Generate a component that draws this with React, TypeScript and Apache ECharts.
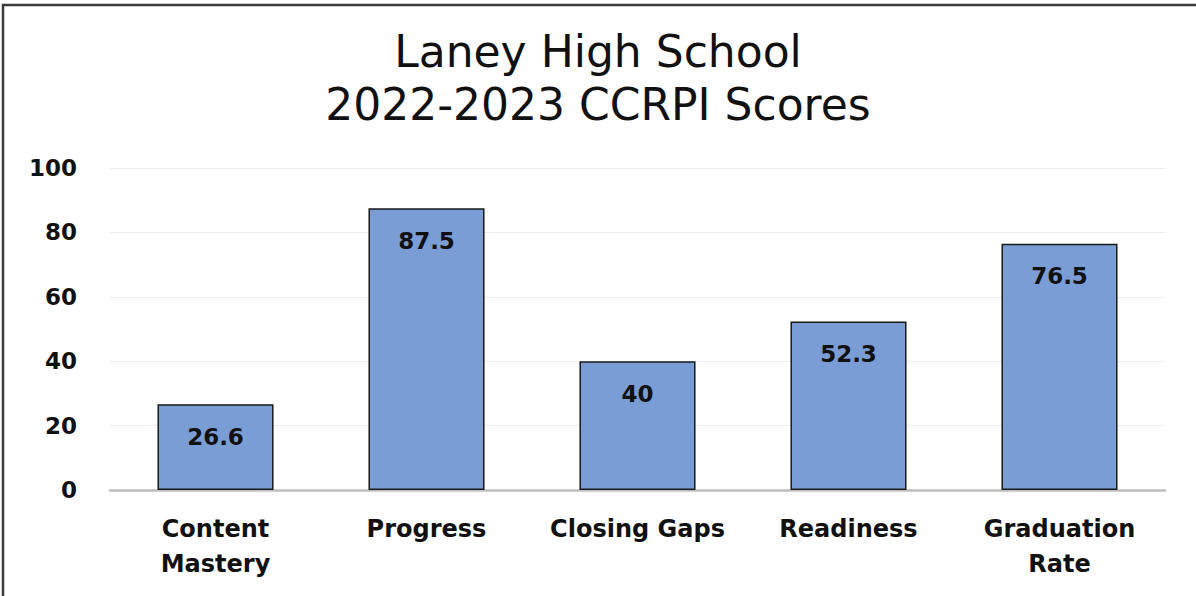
import React, { useEffect, useRef } from "react";
import * as echarts from "echarts";

const categories = ["Content\nMastery", "Progress", "Closing Gaps", "Readiness", "Graduation\nRate"];
const scores = [26.6, 87.5, 40, 52.3, 76.5];
const titleLines = ["Laney High School", "2022-2023 CCRPI Scores"];

export default function App() {
  const ref = useRef<HTMLDivElement>(null);
  useEffect(() => {
    if (!ref.current) return;
    const chart = echarts.init(ref.current, null, { renderer: "svg" });
    const font = "'DejaVu Sans', 'Noto Sans', sans-serif";
    chart.setOption({
      animation: false,
      backgroundColor: "#ffffff",
      title: {
        text: titleLines.join("\n"),
        left: "center",
        top: 20,
        textStyle: {
          fontFamily: font,
          fontSize: 44,
          fontWeight: "normal",
          color: "#111111",
          lineHeight: 53,
        },
      },
      graphic: [
        {
          type: "rect",
          shape: { x: 3, y: 5, width: 1210, height: 620 },
          style: { fill: "none", stroke: "#3a3a3a", lineWidth: 2.5 },
          silent: true,
        },
      ],
      grid: { left: 110, right: 31, top: 168, bottom: 106, containLabel: false },
      xAxis: {
        type: "category",
        data: categories,
        axisLine: { lineStyle: { color: "#bfbfbf", width: 2.5 } },
        axisTick: { show: false },
        axisLabel: {
          interval: 0,
          hideOverlap: false,
          margin: 21,
          fontFamily: font,
          fontSize: 24,
          fontWeight: "bold",
          color: "#111111",
          lineHeight: 35,
        },
      },
      yAxis: {
        type: "value",
        min: 0,
        max: 100,
        interval: 20,
        axisLine: { show: false },
        axisTick: { show: false },
        splitLine: { lineStyle: { color: "#ececec", width: 1 } },
        axisLabel: {
          margin: 33,
          fontFamily: font,
          fontSize: 23,
          fontWeight: "bold",
          color: "#111111",
        },
      },
      series: [
        {
          type: "bar",
          data: scores,
          barWidth: "55%",
          itemStyle: { color: "#7b9dd5", borderColor: "#1a1a1a", borderWidth: 1.5 },
          label: {
            show: true,
            position: "insideTop",
            distance: 21,
            fontFamily: font,
            fontSize: 23,
            fontWeight: "bold",
            color: "#111111",
          },
        },
      ],
    });
    return () => chart.dispose();
  }, []);
  return (
    <div
      ref={ref}
      style={{ position: "absolute", left: 0, top: 0, width: 1196, height: 596 }}
    />
  );
}
